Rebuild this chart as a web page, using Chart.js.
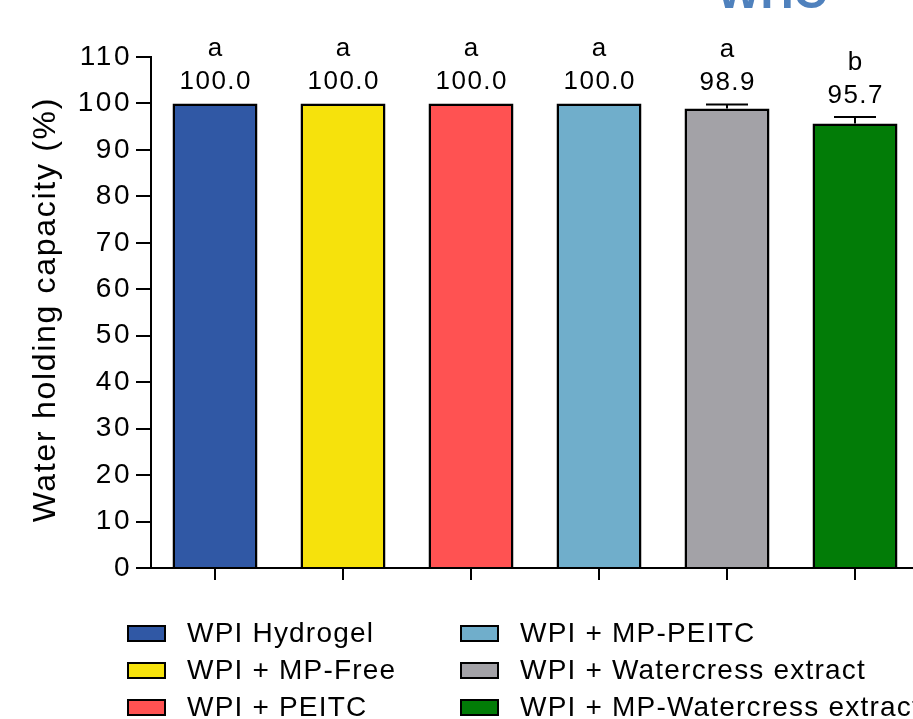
<!DOCTYPE html>
<html><head><meta charset="utf-8">
<script src="https://cdn.jsdelivr.net/npm/chart.js@4"></script>
<style>
html,body{margin:0;padding:0;overflow:hidden;background:#fff;width:913px;height:719px;}
#wrap{position:relative;width:913px;height:719px;overflow:hidden;background:#fff;}
canvas{position:absolute;left:0;top:0;}
.title{position:absolute;left:717px;top:-31px;font:bold 46px "Liberation Sans",Arial,sans-serif;color:#4F81BD;line-height:46px;white-space:nowrap;}
.leg{position:absolute;font:28px "Liberation Sans",Arial,sans-serif;letter-spacing:1.2px;color:#000;white-space:nowrap;line-height:28px;}
.sw{position:absolute;width:35px;height:13px;border:2px solid #000;}
</style></head><body>
<div id="wrap"><canvas id="c" width="919" height="719"></canvas><div class="title">WHC</div><div id="legend"></div></div>
<script>
const categories = ['WPI Hydrogel','WPI + MP-Free','WPI + PEITC','WPI + MP-PEITC','WPI + Watercress extract','WPI + MP-Watercress extract'];
const values = [100.0, 100.0, 100.0, 100.0, 98.9, 95.7];
const errors = [0, 0, 0, 0, 0.9, 1.4];
const letters = ['a','a','a','a','a','b'];
const colors = ['#3058A5','#F6E20C','#FF5252','#70AECB','#A3A2A7','#027C07'];
const yMin = 0, yMax = 110, yStep = 10;
const yTitle = 'Water holding capacity (%)';
const FONT = '"Liberation Sans", Arial, sans-serif';

// HTML legend (two columns, column-wise order)
const legend = document.getElementById('legend');
const colX = [127, 460];
const rowBase = [643, 680, 717];
categories.forEach((name, i) => {
  const col = Math.floor(i / 3), row = i % 3;
  const sw = document.createElement('div');
  sw.className = 'sw';
  sw.style.left = colX[col] + 'px';
  sw.style.top = (rowBase[row] - 18) + 'px';
  sw.style.background = colors[i];
  legend.appendChild(sw);
  const t = document.createElement('div');
  t.className = 'leg';
  t.textContent = name;
  t.style.left = (colX[col] + 60) + 'px';
  t.style.top = (rowBase[row] - 23.7) + 'px';
  legend.appendChild(t);
});

const spacingPlugin = {
  id: 'spacing',
  beforeDraw(chart) { chart.ctx.letterSpacing = '2.5px'; },
  afterDraw(chart) {
    const ctx = chart.ctx;
    ctx.letterSpacing = '0px';
    // rotated y-axis title
    const area = chart.chartArea;
    ctx.save();
    ctx.letterSpacing = '1.7px';
    ctx.fillStyle = '#000';
    ctx.font = '32px ' + FONT;
    ctx.textAlign = 'center';
    ctx.textBaseline = 'alphabetic';
    ctx.translate(55, (area.top + area.bottom) / 2 - 2);
    ctx.rotate(-Math.PI / 2);
    ctx.fillText(yTitle, 0.85, 0);
    ctx.restore();
    ctx.letterSpacing = '0px';
  }
};

const errLabelPlugin = {
  id: 'errLabels',
  afterDatasetsDraw(chart) {
    const ctx = chart.ctx;
    const y = chart.scales.y;
    const meta = chart.getDatasetMeta(0);
    ctx.save();
    ctx.strokeStyle = '#000';
    ctx.lineWidth = 2;
    meta.data.forEach((bar, i) => {
      const x = bar.x;
      const yv = y.getPixelForValue(values[i]);
      const ye = y.getPixelForValue(values[i] + errors[i]);
      if (errors[i] > 0) {
        ctx.beginPath();
        ctx.moveTo(x, yv); ctx.lineTo(x, ye);
        ctx.moveTo(x - 21, ye); ctx.lineTo(x + 21, ye);
        ctx.stroke();
      }
      ctx.letterSpacing = '1.5px';
      ctx.fillStyle = '#000';
      ctx.font = '26px ' + FONT;
      ctx.textAlign = 'center';
      ctx.textBaseline = 'alphabetic';
      ctx.fillText(values[i].toFixed(1), x + 0.75, ye - 14);
      ctx.fillText(letters[i], x + 0.75, ye - 47);
    });
    ctx.restore();
  }
};

new Chart(document.getElementById('c'), {
  type: 'bar',
  data: {
    labels: categories,
    datasets: [{
      data: values,
      backgroundColor: colors,
      borderColor: '#000',
      borderWidth: 2.5,
      borderSkipped: 'bottom',
      barPercentage: 0.664,
      categoryPercentage: 1.0
    }]
  },
  options: {
    responsive: false,
    animation: false,
    layout: { padding: { top: 57, left: 0, right: 0, bottom: 0 } },
    plugins: { legend: { display: false }, tooltip: { enabled: false }, title: { display: false } },
    scales: {
      x: {
        offset: true,
        grid: { display: true, drawOnChartArea: false, drawTicks: true, tickLength: 12, color: '#000', lineWidth: 2, offset: false },
        border: { display: true, color: '#000', width: 2 },
        ticks: { callback: () => '', padding: 0 },
        afterFit(scale) { scale.height = 719 - 568; }
      },
      y: {
        min: yMin, max: yMax,
        grid: { display: true, drawOnChartArea: false, drawTicks: true, tickLength: 15, color: '#000', lineWidth: 2 },
        border: { display: true, color: '#000', width: 2 },
        ticks: { stepSize: yStep, color: '#000', font: { size: 28, family: FONT }, padding: 4 },
        title: { display: false },
        afterFit(scale) { scale.width = 151; }
      }
    }
  },
  plugins: [spacingPlugin, errLabelPlugin]
});
</script>
</body></html>
